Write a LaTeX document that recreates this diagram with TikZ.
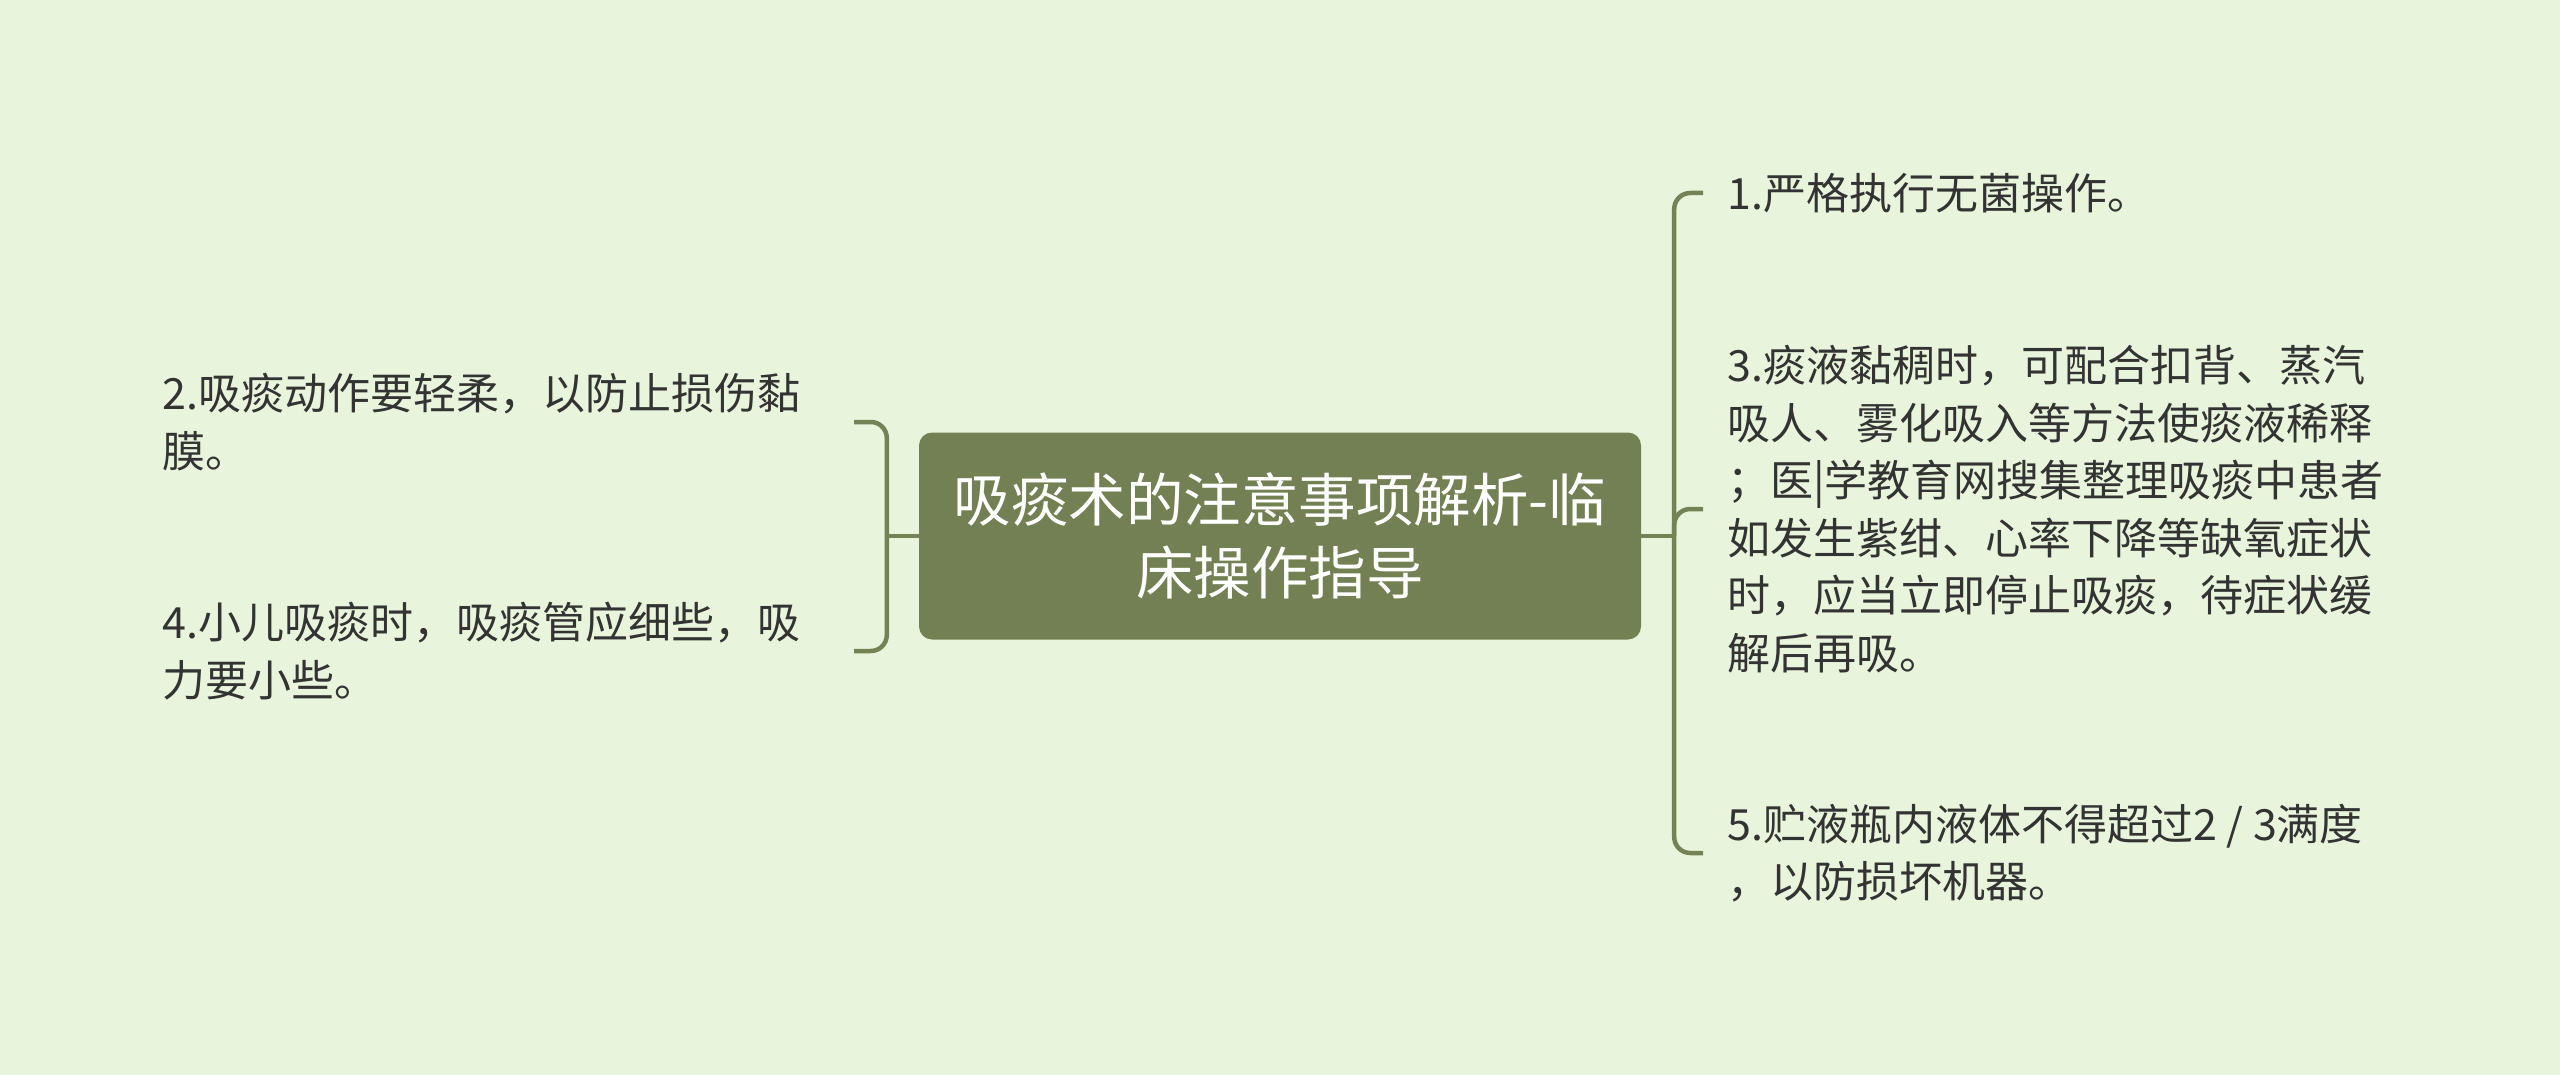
\documentclass[tikz,border=0pt]{standalone}
\usepackage{fontspec}
\setmainfont{Noto Sans CJK SC}
\usetikzlibrary{positioning, calc}
\definecolor{bgmint}{RGB}{232, 245, 220}
\definecolor{olivebox}{RGB}{115, 128, 83}
\definecolor{olivelink}{RGB}{117, 130, 86}
\definecolor{leafgray}{RGB}{51, 51, 51}
\tikzset{
  rootbox/.style={rectangle, rounded corners=13pt, fill=olivebox, text=white, minimum width=722pt, minimum height=207pt, align=center, font=\fontsize{57.5pt}{73pt}\selectfont},
  leafleft/.style={rectangle, anchor=east, inner xsep=24pt, inner ysep=0pt, text width=667pt, align=left, text=leafgray, font=\fontsize{43pt}{57.5pt}\selectfont},
  leafright/.style={rectangle, anchor=west, inner xsep=24pt, inner ysep=0pt, align=left, text=leafgray, font=\fontsize{43pt}{57.5pt}\selectfont},
  link/.style={draw=olivelink, line width=4.5pt, rounded corners=16pt}
}

\begin{document}
\begin{tikzpicture}[x=1pt, y=-1pt]
    % canvas
    \fill[bgmint] (0, 0) rectangle (2560, 1075);
    \useasboundingbox (0, 0) rectangle (2560, 1075);

    % central topic
    \node[rootbox] (root) at (1280, 536) {吸痰术的注意事项解析-临\\床操作指导};
    \coordinate[left=32pt of root] (lj);
    \coordinate[right=33pt of root] (rj);

    % left branches
    \node[leafleft] (tip2) at (854, 422) {2.吸痰动作要轻柔，以防止损伤黏\\膜。};
    \node[leafleft] (tip4) at (854, 651) {4.小儿吸痰时，吸痰管应细些，吸\\力要小些。};

    % right branches
    \node[leafright] (tip1) at (1703, 193) {1.严格执行无菌操作。};
    \node[leafright] (tip3) at (1703, 509) {3.痰液黏稠时，可配合扣背、蒸汽\\吸人、雾化吸入等方法使痰液稀释\\；医|学教育网搜集整理吸痰中患者\\如发生紫绀、心率下降等缺氧症状\\时，应当立即停止吸痰，待症状缓\\解后再吸。};
    \node[leafright] (tip5) at (1703, 853) {5.贮液瓶内液体不得超过2 / 3满度\\，以防损坏机器。};

    % connectors
    \draw[link] (root.west) -- (lj);
    \draw[link] (lj) |- (tip2.east);
    \draw[link] (lj) |- (tip4.east);
    \draw[link] (root.east) -- (rj);
    \draw[link] (rj) |- (tip1.west);
    \draw[link] (rj) |- (tip3.west);
    \draw[link] (rj) |- (tip5.west);
\end{tikzpicture}
\end{document}
